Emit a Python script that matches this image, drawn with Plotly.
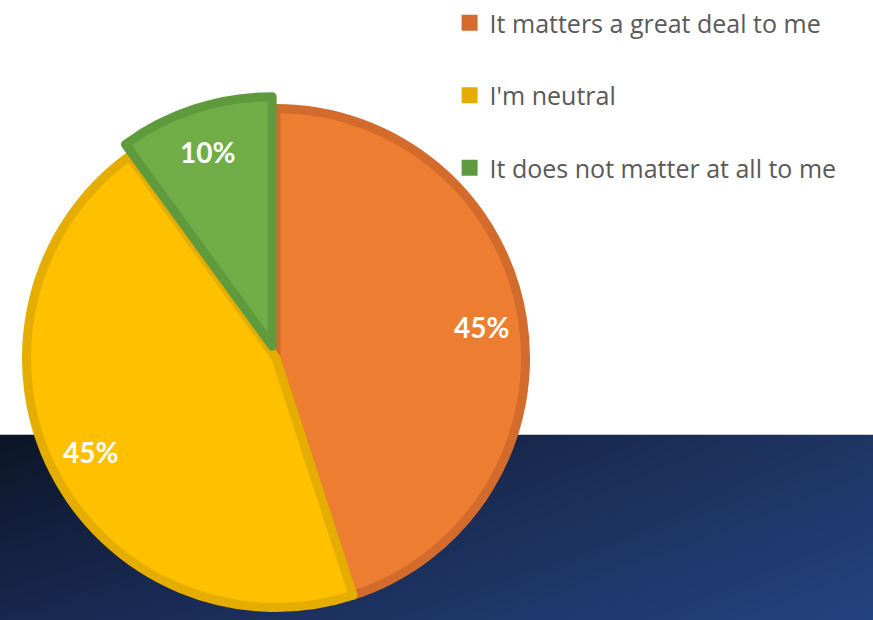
import base64
import math
import struct
import zlib

import numpy as np
import plotly.graph_objects as go

# ---- data ----
labels = ["It matters a great deal to me", "I'm neutral", "It does not matter at all to me"]
values = [45, 45, 10]
fill_colors = ["#ED7D31", "#FFC000", "#70AD47"]
edge_colors = ["#D26B2B", "#E5AD00", "#5F9B3C"]
pulls = [0, 0, 0.05]

# ---- canvas / pie geometry ----
W, H = 873, 620
cx_px, cy_px = 276, 355          # pie centre in pixels
r_px = 254                       # pie radius in pixels
half = r_px * (1 + max(pulls))   # plotly shrinks the pie to make room for the pull

dom_x = [(cx_px - half) / W, (cx_px + half) / W]
dom_y = [max(0.0, 1 - (cy_px + half) / H), 1 - (cy_px - half) / H]


def gradient_png(w, h, tl, tr, bl, br):
    """Small bilinear-gradient PNG returned as a data URI."""
    u = np.linspace(0, 1, w)[None, :, None]
    v = np.linspace(0, 1, h)[:, None, None]
    tl, tr, bl, br = (np.array(c, float)[None, None, :] for c in (tl, tr, bl, br))
    img = (1 - v) * ((1 - u) * tl + u * tr) + v * ((1 - u) * bl + u * br)
    img = np.clip(img, 0, 255).astype(np.uint8)
    raw = b"".join(b"\x00" + row.tobytes() for row in img)

    def chunk(tag, data):
        return (struct.pack(">I", len(data)) + tag + data
                + struct.pack(">I", zlib.crc32(tag + data) & 0xFFFFFFFF))

    png = (b"\x89PNG\r\n\x1a\n"
           + chunk(b"IHDR", struct.pack(">IIBBBBB", w, h, 8, 2, 0, 0, 0))
           + chunk(b"IDAT", zlib.compress(raw, 9))
           + chunk(b"IEND", b""))
    return "data:image/png;base64," + base64.b64encode(png).decode()


band_top = 432
band_src = gradient_png(291, 63, (13, 22, 40), (31, 53, 100), (24, 40, 78), (37, 67, 128))

fig = go.Figure()

fig.add_trace(go.Pie(
    labels=labels,
    values=values,
    sort=False,
    direction="clockwise",
    rotation=0,
    pull=pulls,
    marker=dict(colors=fill_colors, line=dict(color=edge_colors, width=9)),
    textinfo="none",
    hoverinfo="label+percent",
    showlegend=False,
    domain=dict(x=dom_x, y=dom_y),
))

# legend entries (one group per category so they can be spaced apart)
for lab, col in zip(labels, edge_colors):
    fig.add_trace(go.Scatter(
        x=[None], y=[None], mode="markers", name=lab, legendgroup=lab,
        marker=dict(symbol="square", size=17, color=col),
        showlegend=True, hoverinfo="skip",
    ))

# percentage labels placed along each slice's bisector
total = sum(values)
start = 0.0
annotations = []
for val, pull in zip(values, pulls):
    frac = val / total
    mid = (start + frac / 2) * 2 * math.pi   # clockwise from 12 o'clock
    start += frac
    ox = cx_px + pull * r_px * math.sin(mid)
    oy = cy_px - pull * r_px * math.cos(mid)
    lx = ox + 0.82 * r_px * math.sin(mid)
    ly = oy - 0.82 * r_px * math.cos(mid)
    annotations.append(dict(
        x=lx / W, y=1 - ly / H, xref="paper", yref="paper",
        text=f"<b>{round(frac * 100)}%</b>", showarrow=False,
        font=dict(family="Lato", size=28, color="white"),
        xanchor="center", yanchor="middle",
    ))

fig.update_layout(
    width=W, height=H,
    margin=dict(l=0, r=0, t=0, b=0),
    paper_bgcolor="white",
    plot_bgcolor="rgba(0,0,0,0)",
    xaxis=dict(visible=False),
    yaxis=dict(visible=False),
    showlegend=True,
    legend=dict(
        x=0.515, y=1.015, xanchor="left", yanchor="top",
        font=dict(family="Open Sans", size=25, color="#595959"),
        tracegroupgap=37,
        bgcolor="rgba(0,0,0,0)",
        itemclick=False, itemdoubleclick=False,
    ),
    annotations=annotations,
    images=[dict(
        source=band_src, xref="paper", yref="paper",
        x=0, y=1 - band_top / H, sizex=1, sizey=(H - band_top) / H,
        xanchor="left", yanchor="top", sizing="stretch", layer="below",
    )],
)

fig.write_html("out.html")
